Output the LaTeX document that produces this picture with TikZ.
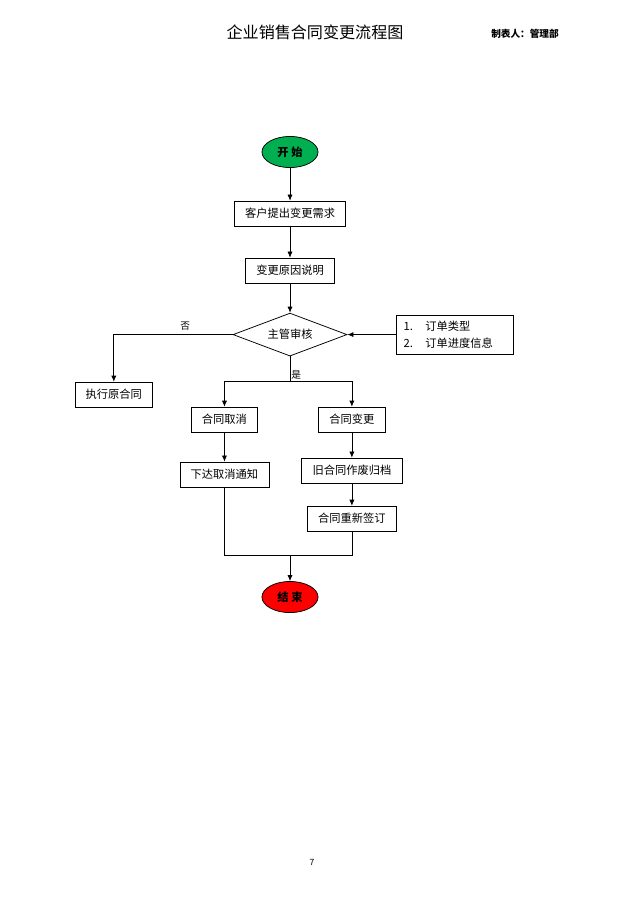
\documentclass[tikz,border=0pt]{standalone}
\usepackage{fontspec}
\setmainfont{Noto Sans CJK SC}
\usetikzlibrary{shapes,arrows.meta,positioning,calc}
\definecolor{startgreen}{RGB}{0,176,80}
\definecolor{endred}{RGB}{255,0,0}

\begin{document}
\begin{tikzpicture}[x=0.0328125cm, y=-0.0328125cm, on grid,
    box/.style={draw, line width=0.7pt, minimum height=0.82cm, inner xsep=0.35cm, font=\fontsize{10.5}{12}\selectfont},
    term/.style={draw, ellipse, line width=0.7pt, minimum width=1.84cm, minimum height=1.02cm, inner sep=0pt, font=\bfseries\fontsize{10.5}{12}\selectfont},
    check/.style={draw, diamond, aspect=2.65, line width=0.7pt, minimum width=3.74cm, minimum height=1.41cm, inner sep=0pt, font=\fontsize{10.5}{12}\selectfont},
    flow/.style={-{Latex[length=2mm, width=1.7mm]}, line width=0.7pt},
    link/.style={line width=0.7pt}]
  \useasboundingbox (0,0) rectangle (640,905);
  \node[font=\fontsize{15}{18}\selectfont] (title) at (315,32) {企业销售合同变更流程图};
  \node[font=\bfseries\fontsize{9}{11}\selectfont] (maker) at (525,34) {制表人：管理部};

  \node[term, fill=startgreen] (start) at (290,152) {开\ 始};
  \node[box, below=2.02cm of start] (request) {客户提出变更需求};
  \node[box, below=1.87cm of request] (reason) {变更原因说明};
  \node[check, below=2.10cm of reason] (review) {主管审核};
  \node[draw, line width=0.7pt, right=5.4cm of review, minimum width=3.84cm, minimum height=1.28cm,
        text width=3.34cm, align=left, font=\fontsize{10.5}{16}\selectfont] (info)
        {1.\hspace{1.1em}订单类型\\2.\hspace{1.1em}订单进度信息};
  \node[box, below left=1.97cm and 5.78cm of review] (keep) {执行原合同};
  \node[box, below left=2.79cm and 2.15cm of review] (cancel) {合同取消};
  \node[box, below right=2.79cm and 2.03cm of review] (change) {合同变更};
  \node[box, below=1.80cm of cancel] (notice) {下达取消通知};
  \node[box, below=1.67cm of change] (scrap) {旧合同作废归档};
  \node[box, below=1.58cm of scrap] (resign) {合同重新签订};
  \node[term, fill=endred, below=8.61cm of review] (finish) {结\ 束};
  \coordinate (fork) at (290,381);
  \coordinate (merge) at (290,555);

  \draw[flow] (start) -- (request);
  \draw[flow] (request) -- (reason);
  \draw[flow] (reason) -- (review);
  \draw[flow] (info) -- (review);
  \draw[flow] (review) -| node[pos=0.2, above, font=\fontsize{9}{11}\selectfont] {否} (keep);
  \draw[link] (review) -- (fork) node[above right, inner sep=1pt, font=\fontsize{9}{11}\selectfont] {是};
  \draw[flow] (fork) -| (cancel);
  \draw[flow] (fork) -| (change);
  \draw[flow] (cancel) -- (notice);
  \draw[flow] (change) -- (scrap);
  \draw[flow] (scrap) -- (resign);
  \draw[link] (notice) |- (merge);
  \draw[link] (resign) |- (merge);
  \draw[flow] (merge) -- (finish);

  \node[font=\fontsize{8}{9}\selectfont] (page) at (312,862) {7};
\end{tikzpicture}
\end{document}
